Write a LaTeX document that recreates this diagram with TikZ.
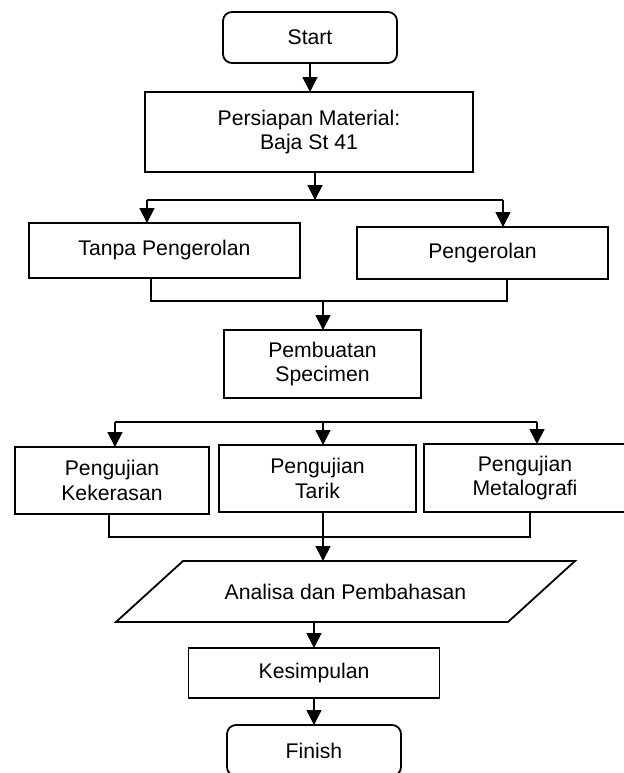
\documentclass[tikz,border=0pt]{standalone}
\usepackage{fontspec}
\setmainfont{Liberation Sans}
\usetikzlibrary{arrows.meta}

\begin{document}
\begin{tikzpicture}[x=0.5pt,y=-0.5pt,>={Triangle[width=7.5pt,length=7.5pt]},
 line width=0.9pt,font=\fontsize{10.6}{12.4}\selectfont,
 box/.style={rectangle,draw,align=center,inner sep=0pt,outer sep=0pt},
 term/.style={box,rounded corners=4.5pt,minimum width=87pt,minimum height=25.5pt}]
\useasboundingbox (0,0) rectangle (624,773);

\node[term](start) at (310,37.5){Start};
\node[box,minimum width=164pt,minimum height=40pt](prep) at (309,132){Persiapan Material:\\Baja St 41};
\node[box,minimum width=135.5pt,minimum height=27.5pt](tanpa) at (164.5,250.5){Tanpa Pengerolan};
\node[box,minimum width=125.5pt,minimum height=26pt](roll) at (482.5,253){Pengerolan};
\node[box,minimum width=98.5pt,minimum height=34pt](spec) at (322.5,364){Pembuatan\\Specimen};
\node[box,minimum width=97pt,minimum height=33.5pt](keras) at (112,480.5){Pengujian\\Kekerasan};
\node[box,minimum width=98.5pt,minimum height=33.5pt](tarik) at (317.5,478.5){Pengujian\\Tarik};
\node[box,minimum width=101pt,minimum height=34pt](metal) at (525,478){Pengujian\\Metalografi};
\node[box,draw=none,minimum width=196pt,minimum height=30.5pt](analisa) at (345.5,591.5){Analisa dan Pembahasan};
\node[box,minimum width=125.5pt,minimum height=25pt](simpul) at (314,673){Kesimpulan};
\node[term](finish) at (314,750.5){Finish};

% parallelogram round the analisa text
\draw ([xshift=16.75pt]analisa.north west) -- ([xshift=16.75pt]analisa.north east)
  -- ([xshift=-16.75pt]analisa.south east) -- ([xshift=-16.75pt]analisa.south west) -- cycle;

% junction points
\coordinate (s1l) at (147,200); \coordinate (s1m) at (315,200); \coordinate (s1r) at (503,200);
\coordinate (m1l) at (151,301); \coordinate (m1m) at (323,301); \coordinate (m1r) at (507,301);
\coordinate (s2l) at (115,422); \coordinate (s2m) at (323,422); \coordinate (s2r) at (537,422);
\coordinate (m2l) at (109,537); \coordinate (m2m) at (323,537); \coordinate (m2r) at (530,537);

\draw[->] (start) -- (prep.north -| start);
\draw[->] (prep.south -| s1m) -- (s1m);
\draw (s1l) -- (s1r);
\foreach \p/\n in {s1l/tanpa, s1r/roll}{
    \draw[->] (\p) -- (\n.north -| \p);}
\draw (tanpa.south -| m1l) |- (m1r) -- (roll.south -| m1r);
\draw[->] (m1m) -- (spec.north -| m1m);

\draw (s2l) -- (s2r);
\foreach \p/\n in {s2l/keras, s2m/tarik, s2r/metal}{
    \draw[->] (\p) -- (\n.north -| \p);}
\draw (keras.south -| m2l) |- (m2r) -- (metal.south -| m2r);
\draw[->] (tarik.south -| m2m) -- (analisa.north -| m2m);

\draw[->] (analisa.south -| simpul.north) -- (simpul.north);
\draw[->] (simpul) -- (finish);
\end{tikzpicture}
\end{document}
